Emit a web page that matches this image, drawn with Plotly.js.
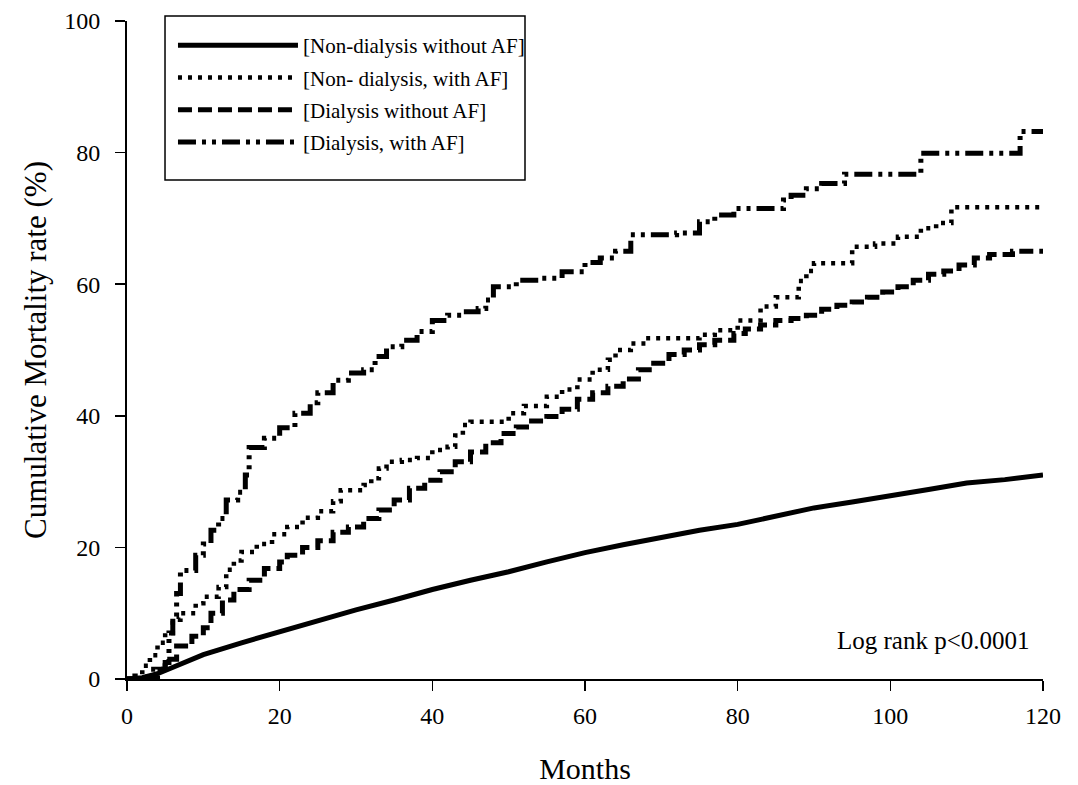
<!DOCTYPE html>
<html>
<head>
<meta charset="utf-8">
<script src="https://cdn.plot.ly/plotly-3.0.1.min.js"></script>
<style>html,body{margin:0;padding:0;background:#fff;}</style>
</head>
<body>
<div id="chart" style="width:1078px;height:785px;"></div>
<script>
// Series names
const seriesNames = ["[Non-dialysis without AF]", "[Non- dialysis, with AF]", "[Dialysis without AF]", "[Dialysis, with AF]"];

// Non-dialysis without AF (solid)
const ndNoAF_x = [0, 2, 4, 6, 8, 10, 15, 20, 25, 30, 35, 40, 45, 50, 55, 60, 65, 70, 75, 80, 85, 90, 95, 100, 105, 110, 115, 120];
const ndNoAF_y = [0, 0.2, 0.8, 1.8, 2.8, 3.7, 5.5, 7.2, 8.8, 10.5, 12, 13.6, 15, 16.3, 17.8, 19.2, 20.4, 21.5, 22.6, 23.5, 24.8, 26, 26.9, 27.8, 28.8, 29.8, 30.3, 31];

// Non-dialysis with AF (dotted)
const ndAF_x = [0, 1, 2, 3, 4, 5, 6, 7, 9, 10, 12, 13, 14, 15, 17, 19, 21, 23, 25, 27, 28, 31, 32, 33, 34, 36, 38, 40, 42, 43, 44, 45, 50, 52, 55, 57, 59, 61, 63, 64, 66, 68, 75, 77, 80, 83, 85, 88, 89, 90, 95, 98, 101, 104, 106, 108, 120];
const ndAF_y = [0, 0.5, 2, 3.6, 5.5, 7, 9, 10, 11.5, 12.5, 14, 16.6, 18, 19.3, 20.5, 22, 23.1, 24.5, 25.5, 27, 28.7, 29.5, 30.5, 32, 33, 33.3, 33.6, 34.8, 35.3, 37, 38.6, 39.1, 40.4, 41.5, 42.9, 44, 45.5, 47, 48.5, 50, 51, 51.8, 52.3, 53, 54.5, 56.6, 58, 60.5, 62, 63.2, 65.7, 66.2, 67.2, 68.5, 69.3, 71.7, 71.7];

// Dialysis without AF (dashed)
const dNoAF_x = [0, 2, 4, 5, 6.5, 8.5, 10, 11, 12.5, 14, 16, 18, 20, 21, 23, 25, 27, 29, 31, 33, 35, 37, 39, 41, 43, 45, 47, 49, 51, 53, 55, 57, 59, 61, 63, 65, 67, 69, 71, 73, 75, 77, 79.5, 81, 83, 85, 87, 89, 91, 93, 95, 97, 99, 101, 103, 105, 107, 109, 111, 113, 116, 120];
const dNoAF_y = [0, 0.3, 1.5, 3, 5, 6.5, 7.8, 10, 12, 13.6, 15, 16.8, 17.8, 18.8, 20, 21, 22.3, 23.1, 24.4, 25.7, 27.2, 29, 30.2, 31.5, 33, 34.5, 35.9, 37.3, 38.3, 39.2, 39.9, 41, 42.5, 43.5, 44.5, 45.6, 47, 48, 49.3, 50, 50.8, 51.5, 52.5, 53.2, 53.8, 54.5, 54.8, 55.3, 56.2, 56.8, 57.3, 58, 58.8, 59.6, 60.6, 61.5, 62, 62.9, 64, 64.5, 65, 65];

// Dialysis with AF (dash-dot)
const dAF_x = [0, 3, 5, 5.5, 6, 6.5, 7, 9, 10, 11, 12, 13, 14.5, 15.5, 16, 18, 20, 22, 24, 25, 27, 29, 31, 32.5, 34, 36, 38, 40, 42, 44, 46, 47, 48, 51, 54, 57, 60, 62, 64, 66, 72, 75, 77, 79.5, 86, 87, 89, 91, 94, 104, 117, 120];
const dAF_y = [0, 1.5, 2.5, 7, 9.5, 13, 16.5, 18.8, 20.5, 22.6, 24.4, 27.2, 28.4, 31, 35.2, 36.6, 38.2, 40.4, 42, 43.5, 45.4, 46.5, 47, 49, 50.5, 51.5, 52.8, 54.5, 55.3, 55.8, 56.3, 57.6, 59.6, 60.6, 60.9, 61.9, 63.3, 64, 65, 67.5, 67.8, 69.5, 70.5, 71.5, 72.8, 73.5, 74.5, 75.3, 76.7, 79.9, 83.2, 83.2];

const xTicks = [0, 20, 40, 60, 80, 100, 120];
const yTicks = [0, 20, 40, 60, 80, 100];

const FONT = "'Times New Roman', 'Liberation Serif', serif";

const traces = [
  {x: ndNoAF_x, y: ndNoAF_y, name: seriesNames[0], legendgroup: 'g1', mode: 'lines', line: {color: '#000', width: 5, shape: 'linear'}},
  {x: ndAF_x, y: ndAF_y, name: seriesNames[1], legendgroup: 'g2', mode: 'lines', line: {color: '#000', width: 4.5, shape: 'hv', dash: '4px,6px'}},
  {x: dNoAF_x, y: dNoAF_y, name: seriesNames[2], legendgroup: 'g3', mode: 'lines', line: {color: '#000', width: 5, shape: 'hv', dash: '14px,6px'}},
  {x: dAF_x, y: dAF_y, name: seriesNames[3], legendgroup: 'g4', mode: 'lines', line: {color: '#000', width: 5, shape: 'hv', dash: '18px,6px,4px,6px,4px,6px'}}
];

const layout = {
  width: 1078, height: 785,
  margin: {l: 127, r: 35, t: 21, b: 106},
  paper_bgcolor: '#fff', plot_bgcolor: '#fff',
  font: {family: FONT, color: '#000', size: 20},
  showlegend: true,
  legend: {
    x: 0.0502, y: 0.9939, xanchor: 'left', yanchor: 'top',
    borderwidth: 0, bgcolor: 'rgba(0,0,0,0)',
    font: {family: FONT, size: 21, color: '#000'},
    itemwidth: 120, tracegroupgap: 2
  },
  shapes: [{
    type: 'rect', xref: 'paper', yref: 'paper',
    x0: 0.0415, x1: 0.4345, y0: 0.7584, y1: 1.0076,
    line: {color: '#000', width: 1.5}, fillcolor: 'rgba(0,0,0,0)', layer: 'above'
  }],
  xaxis: {
    range: [0, 120], tickvals: xTicks, ticktext: xTicks.map(String),
    ticks: 'outside', ticklen: 10, tickwidth: 1.5, tickcolor: '#000',
    showline: true, linecolor: '#000', linewidth: 2, showgrid: false, zeroline: false,
    tickfont: {family: FONT, size: 24}, ticklabelstandoff: 4,
    title: {text: 'Months', font: {family: FONT, size: 30}, standoff: 32}
  },
  yaxis: {
    range: [0, 100], tickvals: yTicks, ticktext: yTicks.map(String),
    ticks: 'outside', ticklen: 10, tickwidth: 1.5, tickcolor: '#000',
    showline: true, linecolor: '#000', linewidth: 2, showgrid: false, zeroline: false,
    tickfont: {family: FONT, size: 24}, ticklabelstandoff: 10,
    title: {text: 'Cumulative Mortality rate (%)', font: {family: FONT, size: 31}, standoff: 8}
  },
  annotations: [{
    text: 'Log rank p<0.0001', xref: 'paper', yref: 'paper', x: 0.988, y: 0.059,
    xanchor: 'right', yanchor: 'middle', showarrow: false,
    font: {family: FONT, size: 25, color: '#000'}
  }]
};

Plotly.newPlot('chart', traces, layout, {displayModeBar: false, staticPlot: true});
</script>
</body>
</html>
